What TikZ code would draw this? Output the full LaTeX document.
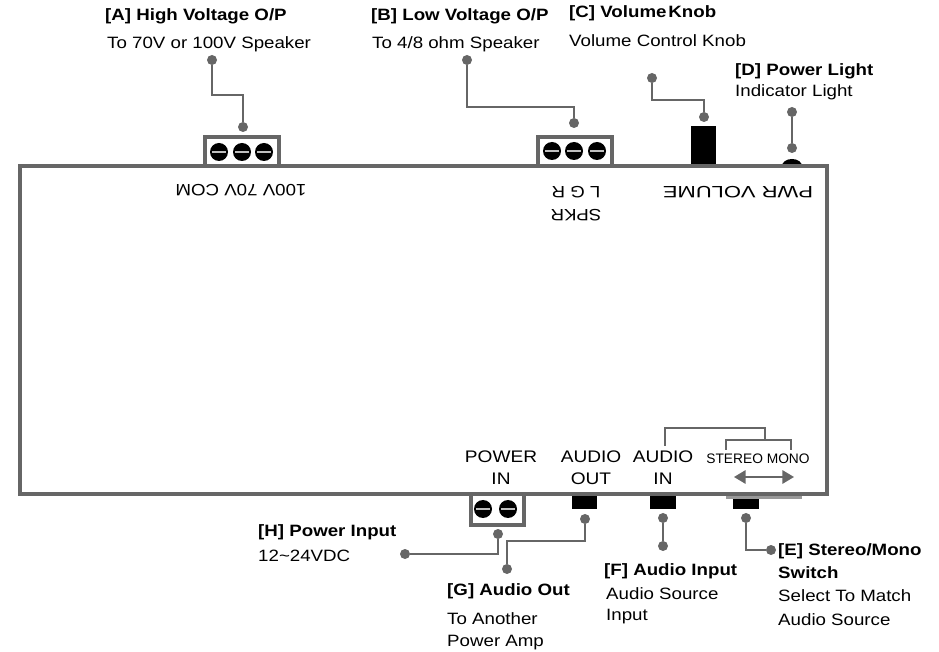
\documentclass[tikz,border=0pt]{standalone}
\usepackage{fontspec}
\setmainfont[FakeStretch=1.14]{Liberation Sans}
\newfontfamily\plainfont{Liberation Sans}
\newfontfamily\widefont[FakeStretch=1.34]{Liberation Sans}
\usetikzlibrary{arrows.meta}
\tikzset{
  wire/.style={draw=black!60,line width=1.5pt},
  thinwire/.style={draw=black!60,line width=1.1pt},
  pin/.style={circle,fill=black!60,inner sep=0pt,minimum size=3mm},
  termbox/.style={draw=black!60,line width=2.8pt,fill=white},
  screw/.style={circle,fill=black,inner sep=0pt,minimum size=5.4mm,
    path picture={\fill [black!25] ([xshift=-2mm,yshift=-0.4mm]path picture bounding box.center) rectangle ([xshift=2mm,yshift=0.4mm]path picture bounding box.center);}},
  jack/.style={fill=black},
  title/.style={anchor=west,inner sep=0pt,font=\fontsize{14}{16}\selectfont\bfseries},
  note/.style={anchor=west,inner sep=0pt,font=\fontsize{14}{16}\selectfont},
  panel/.style={inner sep=0pt,font=\fontsize{14.3}{16}\selectfont},
  flipped/.style={inner sep=0pt,rotate=180,font=\fontsize{14}{16}\selectfont}
}
\begin{document}
\begin{tikzpicture}[x=0.03cm,y=0.03cm]
\useasboundingbox (0,0) rectangle (939,-652);
\fill [jack] (792,-166) ellipse (10 and 7);
\draw [termbox] (205,-137) rectangle (279,-166);
\draw [termbox] (538,-137) rectangle (612,-166);
\fill [jack] (691,-126) rectangle (716,-166);
\draw [black!60,line width=3pt,fill=white] (20,-166) rectangle (827,-494);
\draw [termbox] (471,-494) rectangle (524,-525);
\fill [jack] (572,-496) rectangle (597,-509);
\fill [jack] (650,-496) rectangle (676,-509);
\fill [black!40] (726,-496) rectangle (802,-499);
\fill [jack] (733,-499) rectangle (759,-509);
\node [screw] (screwAa) at (219,-152) {};
\node [screw] (screwAb) at (242,-152) {};
\node [screw] (screwAc) at (264,-152) {};
\node [screw] (screwBa) at (552,-151) {};
\node [screw] (screwBb) at (574,-151) {};
\node [screw] (screwBc) at (597,-151) {};
\node [screw] (screwHa) at (483,-509) {};
\node [screw] (screwHb) at (508,-509) {};
\node [pin] (pinAa) at (212,-60) {};
\node [pin] (pinAb) at (243,-127) {};
\node [pin] (pinBa) at (467,-60) {};
\node [pin] (pinBb) at (574,-123) {};
\node [pin] (pinCa) at (652,-78) {};
\node [pin] (pinCb) at (704,-117) {};
\node [pin] (pinDa) at (792,-112) {};
\node [pin] (pinDb) at (792,-148) {};
\node [pin] (pinEa) at (746,-518) {};
\node [pin] (pinEb) at (771,-550) {};
\node [pin] (pinFa) at (663,-518) {};
\node [pin] (pinFb) at (663,-546) {};
\node [pin] (pinGa) at (585,-519) {};
\node [pin] (pinGb) at (507,-569) {};
\node [pin] (pinHa) at (498,-534) {};
\node [pin] (pinHb) at (405,-554) {};
\coordinate (kneeA) at (243,-95);
\coordinate (kneeB) at (574,-107);
\coordinate (kneeC) at (704,-100);
\coordinate (kneeG) at (585,-541);
\coordinate (kneeH) at (498,-554);
\draw [wire] (pinAb) -- (kneeA) -| (pinAa);
\draw [wire] (pinBb) -- (kneeB) -| (pinBa);
\draw [wire] (pinCb) -- (kneeC) -| (pinCa);
\draw [wire] (pinDa) -- (pinDb);
\draw [wire] (pinEa) |- (pinEb);
\draw [wire] (pinFa) -- (pinFb);
\draw [wire] (pinGa) -- (kneeG) -| (pinGb);
\draw [wire] (pinHa) -- (kneeH) -- (pinHb);
\node [flipped] (labelHigh) at (241,-190) {100V 70V COM};
\node [flipped] (labelLow) at (576,-192) {L G R};
\node [flipped] (labelSpkr) at (576,-215) {SPKR};
\node [flipped,font=\fontsize{14}{16}\widefont] (labelVol) at (738,-192) {PWR VOLUME};
\node [panel] (labelPower) at (501,-457) {POWER};
\node [panel] (labelPowerIn) at (501,-479) {IN};
\node [panel] (labelOut) at (591,-457) {AUDIO};
\node [panel] (labelOutB) at (591,-479) {OUT};
\node [panel] (labelIn) at (663,-457) {AUDIO};
\node [panel] (labelInB) at (663,-479) {IN};
\node [inner sep=0pt,font=\fontsize{11.75}{13}\plainfont] (labelStereo) at (758,-459) {STEREO MONO};
\coordinate (outerA) at (665,-446);
\coordinate (outerB) at (765,-428);
\coordinate (outerC) at (765,-440);
\coordinate (innerA) at (726,-450);
\coordinate (innerB) at (791,-450);
\draw [thinwire] (outerA) |- (outerB) -- (outerC);
\draw [thinwire] (innerA) |- (outerC) -| (innerB);
\coordinate (slideA) at (734,-477);
\coordinate (slideB) at (794,-477);
\draw [black!60,line width=1.8pt,{Triangle[length=3.5mm,width=4mm]}-{Triangle[length=3.5mm,width=4mm]}] (slideA) -- (slideB);
\node [title] (titleA) at (105,-16) {[A] High Voltage O/P};
\node [note] (noteA) at (107,-44) {To 70V or 100V Speaker};
\node [title] (titleB) at (371,-16) {[B] Low Voltage O/P};
\node [note] (noteB) at (372,-44) {To 4/8 ohm Speaker};
\node [title] (titleC) at (569,-13) {[C] {\spaceskip=0.12em Volume Knob}};
\node [note] (noteC) at (569,-41) {Volume Control Knob};
\node [title] (titleD) at (735,-71) {[D] Power Light};
\node [note] (noteD) at (735,-92) {Indicator Light};
\node [title] (titleE) at (778,-551) {[E] Stereo/Mono};
\node [title] (titleEb) at (778,-573) {Switch};
\node [note] (noteE) at (778,-596) {Select To Match};
\node [note] (noteEb) at (778,-620) {Audio Source};
\node [title] (titleF) at (604,-571) {[F] Audio Input};
\node [note] (noteF) at (606,-594) {Audio Source};
\node [note] (noteFb) at (606,-617) {Input};
\node [title] (titleG) at (447,-591) {[G] Audio Out};
\node [note] (noteG) at (447,-619) {To Another};
\node [note] (noteGb) at (447,-643) {Power Amp};
\node [title] (titleH) at (258,-532) {[H] Power Input};
\node [note] (noteH) at (258,-556) {12\textasciitilde 24VDC};
\end{tikzpicture}
\end{document}
